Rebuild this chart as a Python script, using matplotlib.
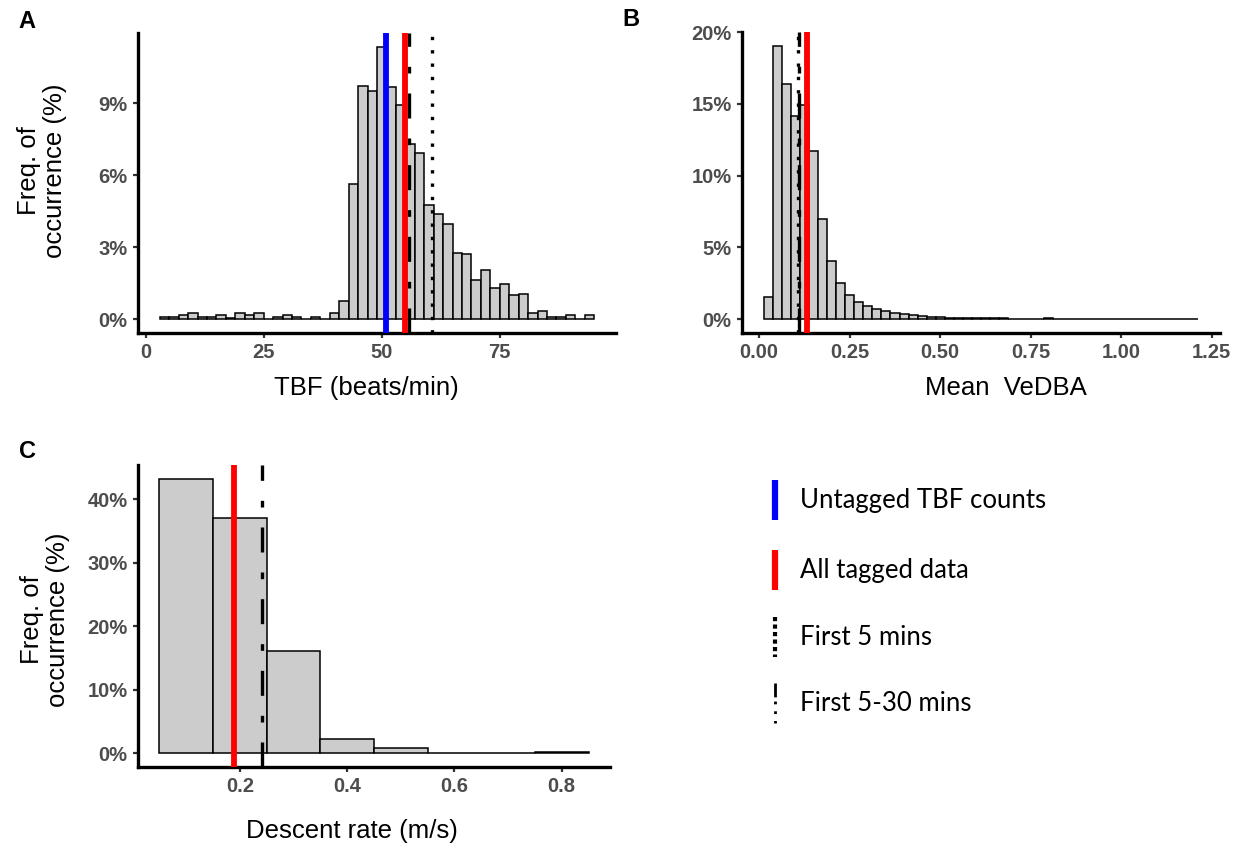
import matplotlib.pyplot as plt
import numpy as np

# histogram bins: first left edge, bin width, frequency (%) per bin
tbf_start, tbf_width = 3, 2
tbf_freq = [0.08, 0.08, 0.18, 0.25, 0.08, 0.08, 0.18, 0.05, 0.25, 0.18,
            0.25, 0.03, 0.10, 0.18, 0.10, 0.03, 0.10, 0.03, 0.25, 0.75,
            5.64, 9.74, 9.51, 11.36, 9.67, 8.92, 7.31, 6.94, 4.77, 4.40,
            3.98, 2.78, 2.72, 1.62, 2.07, 1.32, 1.48, 1.00, 1.04, 0.25,
            0.36, 0.08, 0.08, 0.18, 0.03, 0.20]

vedba_start, vedba_width = 0.0125, 0.025
vedba_freq = [1.55, 19.05, 16.40, 14.17, 14.93, 11.69, 6.99, 4.05, 2.50, 1.69,
              1.20, 0.93, 0.69, 0.58, 0.42, 0.35, 0.28, 0.23, 0.16, 0.16,
              0.12, 0.12, 0.12, 0.07, 0.07, 0.06, 0.06, 0.05, 0.05, 0.01,
              0.01, 0.07, 0.04, 0.04, 0.04, 0.03, 0.03, 0.03, 0.03, 0.005,
              0.03, 0.03, 0.03, 0.03, 0.03, 0.03, 0.03, 0.005]

descent_start, descent_width = 0.05, 0.1
descent_freq = [43.2, 37.0, 16.1, 2.3, 0.88, 0.05, 0.0, 0.2]

# group means drawn as vertical lines
tbf_untagged = 51.0
tbf_all_tagged = 55.0
tbf_first5 = 60.7
tbf_first5_30 = 55.7
vedba_all_tagged = 0.132
vedba_first5 = 0.108
vedba_first5_30 = 0.110
descent_all_tagged = 0.189
descent_first5_30 = 0.241

tbf_xticks = [0, 25, 50, 75]
tbf_yticks = [0, 3, 6, 9]
vedba_xticks = [0.00, 0.25, 0.50, 0.75, 1.00, 1.25]
vedba_yticks = [0, 5, 10, 15, 20]
descent_xticks = [0.2, 0.4, 0.6, 0.8]
descent_yticks = [0, 10, 20, 30, 40]

legend_labels = ["Untagged TBF counts", "All tagged data", "First 5 mins", "First 5-30 mins"]

W, H = 1243, 847
DOTTED = (0, (1, 3))
DASHDOT = (0, (7.5, 6, 2, 6))
TICK_FONT = dict(family="Liberation Sans", weight="bold", size=14.5)
TITLE_FONT = dict(family="Liberation Sans", size=18.5)


def px_axes(fig, left, top, right, bottom):
    return fig.add_axes([left / W, 1 - bottom / H, (right - left) / W, (bottom - top) / H])


def fig_text(fig, x, y, s, **kw):
    fig.text(x / W, 1 - y / H, s, ha="center", va="center", **kw)


def histogram(ax, start, width, freq):
    edges = start + width * np.arange(len(freq))
    ax.bar(edges, freq, width=width, align="edge", color="#CCCCCC",
           edgecolor="black", linewidth=1.1, zorder=2)


def expand(lo, hi, frac=0.05):
    pad = (hi - lo) * frac
    return lo - pad, hi + pad


def style(ax, start, width, freq, xticks, xfmt, yticks):
    ax.set_xlim(*expand(start, start + width * len(freq)))
    ax.set_ylim(*expand(0, max(freq)))
    for s in ["top", "right"]:
        ax.spines[s].set_visible(False)
    for s in ["left", "bottom"]:
        ax.spines[s].set_linewidth(2.4)
        ax.spines[s].set_capstyle("projecting")
    ax.set_xticks(xticks)
    ax.set_xticklabels([xfmt.format(v) for v in xticks], fontdict=TICK_FONT)
    ax.set_yticks(yticks)
    ax.set_yticklabels([f"{v}%" for v in yticks], fontdict=TICK_FONT)
    ax.tick_params(length=3.5, width=1.6, color="#333333", labelcolor="#4D4D4D", pad=4)


def vline(ax, x, color="black", ls="-", lw=2.4):
    ax.axvline(x, color=color, linestyle=ls, linewidth=lw, dash_capstyle="butt", zorder=3)


fig = plt.figure(figsize=(W / 100, H / 100), dpi=100)

# A: tail-beat frequency
ax_a = px_axes(fig, 138, 33, 616, 333)
histogram(ax_a, tbf_start, tbf_width, tbf_freq)
style(ax_a, tbf_start, tbf_width, tbf_freq, tbf_xticks, "{}", tbf_yticks)
vline(ax_a, tbf_first5, ls=DOTTED)
vline(ax_a, tbf_first5_30, ls=DASHDOT)
vline(ax_a, tbf_untagged, color="#0000FF", lw=4.2)
vline(ax_a, tbf_all_tagged, color="#FF0000", lw=4.2)

# B: mean VeDBA
ax_b = px_axes(fig, 742, 32, 1220, 333)
histogram(ax_b, vedba_start, vedba_width, vedba_freq)
style(ax_b, vedba_start, vedba_width, vedba_freq, vedba_xticks, "{:.2f}", vedba_yticks)
vline(ax_b, vedba_first5, ls=DOTTED)
vline(ax_b, vedba_first5_30, ls=DASHDOT)
vline(ax_b, vedba_all_tagged, color="#FF0000", lw=4.2)

# C: descent rate
ax_c = px_axes(fig, 138, 465, 610, 767)
histogram(ax_c, descent_start, descent_width, descent_freq)
style(ax_c, descent_start, descent_width, descent_freq, descent_xticks, "{}", descent_yticks)
vline(ax_c, descent_first5_30, ls=DASHDOT)
vline(ax_c, descent_all_tagged, color="#FF0000", lw=4.2)

# axis titles and panel letters
fig_text(fig, 366, 388, "TBF (beats/min)", **TITLE_FONT)
fig_text(fig, 1006, 388, "Mean  VeDBA", **TITLE_FONT)
fig_text(fig, 352, 831, "Descent rate (m/s)", **TITLE_FONT)
fig_text(fig, 42, 171, "Freq. of\noccurrence (%)", rotation=90, linespacing=1.15, **TITLE_FONT)
fig_text(fig, 45, 620, "Freq. of\noccurrence (%)", rotation=90, linespacing=1.15, **TITLE_FONT)
for letter, (x, y) in zip("ABC", [(27, 22), (631, 20), (27, 451)]):
    fig_text(fig, x, y, letter, family="Liberation Sans", weight="bold", size=17)

# legend drawn in its own pixel-space axes
leg = px_axes(fig, 740, 460, 1240, 740)
leg.set_xlim(740, 1240)
leg.set_ylim(740, 460)
leg.axis("off")
key_styles = [dict(color="#0000FF", ls="-", lw=4.5),
              dict(color="#FF0000", ls="-", lw=4.5),
              dict(color="black", ls=(0, (1, 0.8)), lw=3.0),
              dict(color="black", ls=(0, (5, 1.5, 1, 2.5, 1, 2.5)), lw=2.0)]
key_rows = [500, 570, 637, 703]
for label, st, y in zip(legend_labels, key_styles, key_rows):
    leg.plot([775, 775], [y - 20, y + 20], color=st["color"], linestyle=st["ls"],
             linewidth=st["lw"], solid_capstyle="butt", dash_capstyle="butt")
    leg.text(800, y, label, ha="left", va="center", family="Lato", size=18.5)

fig.savefig("out.png", dpi=100)
